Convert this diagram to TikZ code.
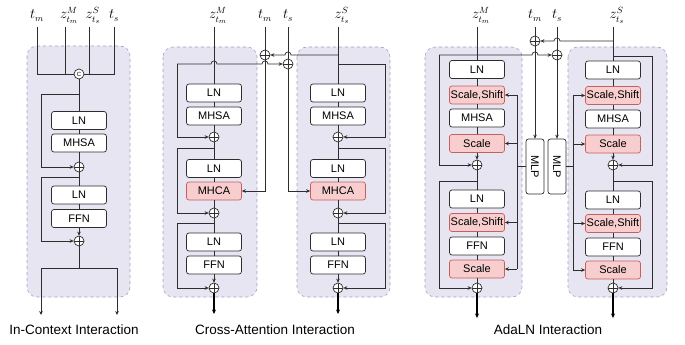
\documentclass[tikz,border=0pt]{standalone}
\usepackage{fontspec}
\setsansfont{Liberation Sans}
\usetikzlibrary{arrows.meta}
\definecolor{panelfill}{RGB}{231,229,242}
\definecolor{paneldraw}{RGB}{165,160,195}
\definecolor{pinkfill}{RGB}{247,205,205}
\definecolor{pinkdraw}{RGB}{200,95,95}
\definecolor{ink}{RGB}{45,45,45}
\begin{document}
\begin{tikzpicture}[x=1pt,y=-1pt,
 panel/.style={draw=paneldraw,dashed,fill=panelfill,rounded corners=10pt,line width=0.6pt},
 blk/.style={draw=ink,fill=white,rounded corners=2.5pt,minimum width=55pt,minimum height=18pt,inner sep=0pt,font=\sffamily\fontsize{11}{12}\selectfont,line width=0.7pt},
 pblk/.style={blk,fill=pinkfill,draw=pinkdraw},
 mlpbox/.style={blk,minimum width=18pt,minimum height=55pt},
 addc/.style={circle,draw=ink,fill=white,minimum size=10pt,inner sep=0pt,line width=0.7pt,
   path picture={\draw[ink,line width=0.6pt] (path picture bounding box.north) -- (path picture bounding box.south) (path picture bounding box.west) -- (path picture bounding box.east);}},
 catc/.style={circle,draw=ink,fill=white,minimum size=10pt,inner sep=0pt,line width=0.7pt,font=\sffamily\fontsize{6}{6}\selectfont},
 lab/.style={anchor=base,font=\fontsize{13.5}{15}\selectfont,inner sep=0pt},
 captxt/.style={font=\sffamily\fontsize{13.5}{15}\selectfont},
 ln/.style={draw=ink,line width=0.7pt},
 arr/.style={ln,-{Stealth[length=4pt,width=3.6pt]}},
 outarr/.style={draw=black,line width=1.3pt,-{Stealth[length=4.5pt,width=4pt]}}
]
\useasboundingbox (0,0) rectangle (685,345);

% ================= Panel 1: In-Context =================
\path[panel] (27,46) rectangle (130,297);
\node[lab] (tm1) at (37,19) {$t_m$};
\node[lab] (zm1) at (69,19) {$z^M_{t_m}$};
\node[lab] (zs1) at (93,19) {$z^S_{t_s}$};
\node[lab] (ts1) at (114,19) {$t_s$};
\coordinate (tm1s) at (37,27);
\coordinate (zm1s) at (65,27);
\coordinate (zs1s) at (89,27);
\coordinate (ts1s) at (114,27);
\node[catc] (cat) at (79,74) {C};
\node[blk] (ln1a) at (79,120.5) {LN};
\node[blk] (mhsa1) at (79,143) {MHSA};
\node[addc] (add1) at (79,167) {};
\node[blk] (ln1b) at (79,195) {LN};
\node[blk] (ffn1) at (79,218.5) {FFN};
\node[addc] (add2) at (79,241) {};
\coordinate (r1a) at (79,94);
\coordinate (r1b) at (41,94);
\coordinate (r2a) at (79,177);
\coordinate (r2b) at (41,177);
\coordinate (o1) at (79,268);
\coordinate (o1l) at (41,268);
\coordinate (o1r) at (117,268);
\coordinate (e1l) at (41,315);
\coordinate (e1r) at (117,315);
\draw[ln] (tm1s) |- (cat.west);
\draw[ln] (ts1s) |- (cat.east);
\draw[ln] (zm1s) -- (zm1s |- cat);
\draw[ln] (zs1s) -- (zs1s |- cat);
\draw[ln] (cat) -- (ln1a);
\draw[arr] (r1a) -- (r1b) |- (add1.west);
\draw[ln] (ln1a) -- (mhsa1);
\draw[ln] (mhsa1) -- (add1);
\draw[ln] (add1) -- (ln1b);
\draw[arr] (r2a) -- (r2b) |- (add2.west);
\draw[ln] (ln1b) -- (ffn1);
\draw[arr] (ffn1) -- (add2);
\draw[ln] (add2) -- (o1);
\draw[ln] (o1l) -- (o1r);
\draw[arr] (o1l) -- (e1l);
\draw[arr] (o1r) -- (e1r);
\node[captxt] (cap1) at (74,330) {In-Context Interaction};

% ================= Panel 2: Cross-Attention =================
\path[panel] (163,47) rectangle (257,297);
\path[panel] (297,47) rectangle (390,297);
\node[lab] (zm2) at (218,19) {$z^M_{t_m}$};
\node[lab] (tm2) at (265,19) {$t_m$};
\node[lab] (ts2) at (288,19) {$t_s$};
\node[lab] (zs2) at (342,19) {$z^S_{t_s}$};
\coordinate (zm2s) at (214,27);
\coordinate (tm2s) at (265,27);
\coordinate (ts2s) at (288,27);
\coordinate (zs2s) at (338,27);
\node[addc] (addU) at (265,55) {};
\node[addc] (addL) at (288,64) {};
% left column
\node[blk] (lnA1) at (214,93) {LN};
\node[blk] (mhsaA) at (214,116) {MHSA};
\node[addc] (addA1) at (214,137) {};
\node[blk] (lnA2) at (214,168.5) {LN};
\node[pblk] (mhcaA) at (214,191) {MHCA};
\node[addc] (addA2) at (214,213) {};
\node[blk] (lnA3) at (214,242) {LN};
\node[blk] (ffnA) at (214,265) {FFN};
\node[addc] (addA3) at (214,288) {};
% right column
\node[blk] (lnB1) at (338,93) {LN};
\node[blk] (mhsaB) at (338,116) {MHSA};
\node[addc] (addB1) at (338,137) {};
\node[blk] (lnB2) at (338,168.5) {LN};
\node[pblk] (mhcaB) at (338,191) {MHCA};
\node[addc] (addB2) at (338,213) {};
\node[blk] (lnB3) at (338,242) {LN};
\node[blk] (ffnB) at (338,265) {FFN};
\node[addc] (addB3) at (338,288) {};
\coordinate (rA1) at (177,64);
\coordinate (rA2) at (214,148);
\coordinate (rA2l) at (177,148);
\coordinate (rA3) at (214,223);
\coordinate (rA3l) at (177,223);
\coordinate (eA) at (214,314);
\coordinate (zs2j) at (338,55);
\coordinate (rB1) at (338,64);
\coordinate (rB1r) at (385,64);
\coordinate (rB2) at (338,148);
\coordinate (rB2r) at (385,148);
\coordinate (rB3) at (338,223);
\coordinate (rB3r) at (385,223);
\coordinate (eB) at (338,314);
\draw[ln] (zm2s) -- (lnA1);
\draw[ln] (tm2s) -- (addU);
\draw[ln] (ts2s) -- (addL);
\draw[ln] (zs2s) -- (lnB1);
\draw[arr] (zs2j) -- (291,55) .. controls (291,51) and (285,51) .. (285,55) -- (addU.east);
\draw[arr] (rA1) -- (211,64) .. controls (211,60) and (217,60) .. (217,64) -- (262,64) .. controls (262,60) and (268,60) .. (268,64) -- (addL.west);
\draw[arr] (rA1) |- (addA1.west);
\draw[ln] (lnA1) -- (mhsaA);
\draw[ln] (mhsaA) -- (addA1);
\draw[ln] (addA1) -- (lnA2);
\draw[arr] (rA2) -- (rA2l) |- (addA2.west);
\draw[ln] (lnA2) -- (mhcaA);
\draw[ln] (mhcaA) -- (addA2);
\draw[ln] (addA2) -- (lnA3);
\draw[arr] (rA3) -- (rA3l) |- (addA3.west);
\draw[ln] (lnA3) -- (ffnA);
\draw[arr] (ffnA) -- (addA3);
\draw[outarr] (addA3) -- (eA);
\draw[arr] (addU) |- (mhcaA.east);
\draw[arr] (addL) |- (mhcaB.west);
\draw[arr] (rB1) -- (rB1r) |- (addB1.east);
\draw[ln] (lnB1) -- (mhsaB);
\draw[ln] (mhsaB) -- (addB1);
\draw[ln] (addB1) -- (lnB2);
\draw[arr] (rB2) -- (rB2r) |- (addB2.east);
\draw[ln] (lnB2) -- (mhcaB);
\draw[ln] (mhcaB) -- (addB2);
\draw[ln] (addB2) -- (lnB3);
\draw[arr] (rB3) -- (rB3r) |- (addB3.east);
\draw[ln] (lnB3) -- (ffnB);
\draw[arr] (ffnB) -- (addB3);
\draw[outarr] (addB3) -- (eB);
\node[captxt] (cap2) at (275,330) {Cross-Attention Interaction};

% ================= Panel 3: AdaLN =================
\path[panel] (425,47) rectangle (522,297);
\path[panel] (568,47) rectangle (667,297);
\node[lab] (zm3) at (481,19) {$z^M_{t_m}$};
\node[lab] (tm3) at (535,19) {$t_m$};
\node[lab] (ts3) at (557,19) {$t_s$};
\node[lab] (zs3) at (617,19) {$z^S_{t_s}$};
\coordinate (zm3s) at (477,27);
\coordinate (tm3s) at (535,27);
\coordinate (ts3s) at (557,27);
\coordinate (zs3s) at (613,27);
\node[addc] (addT) at (535,41) {};
\node[addc] (addT2) at (557,55) {};
\node[mlpbox] (mlp1) at (535,166.5) {\rotatebox{-90}{MLP}};
\node[mlpbox] (mlp2) at (557,166.5) {\rotatebox{-90}{MLP}};
% left column
\node[blk] (lnC1) at (477,69.5) {LN};
\node[pblk] (ssC1) at (477,95) {Scale,Shift};
\node[blk] (mhsaC) at (477,118) {MHSA};
\node[pblk] (scC1) at (477,143.5) {Scale};
\node[addc] (addC1) at (477,165) {};
\node[blk] (lnC2) at (477,199) {LN};
\node[pblk] (ssC2) at (477,222.5) {Scale,Shift};
\node[blk] (ffnC) at (477,246) {FFN};
\node[pblk] (scC2) at (477,269) {Scale};
\node[addc] (addC2) at (477,288) {};
% right column
\node[blk] (lnD1) at (613,70) {LN};
\node[pblk] (ssD1) at (613,95.5) {Scale,Shift};
\node[blk] (mhsaD) at (613,119) {MHSA};
\node[pblk] (scD1) at (613,144) {Scale};
\node[addc] (addD1) at (613,165) {};
\node[blk] (lnD2) at (613,200) {LN};
\node[pblk] (ssD2) at (613,223.5) {Scale,Shift};
\node[blk] (ffnD) at (613,247) {FFN};
\node[pblk] (scD2) at (613,270) {Scale};
\node[addc] (addD2) at (613,288) {};
\coordinate (zs3j) at (613,41);
\coordinate (rC1) at (439,55);
\coordinate (rC2) at (477,181);
\coordinate (rC2l) at (439,181);
\coordinate (eC) at (477,318);
\coordinate (rD1) at (613,56);
\coordinate (rD1r) at (652,56);
\coordinate (rD2) at (613,181);
\coordinate (rD2r) at (652,181);
\coordinate (eD) at (613,318);
\coordinate (m1j) at (517,166.5);
\coordinate (m1t) at (517,95);
\coordinate (m1b) at (517,269);
\coordinate (m2j) at (573,166.5);
\coordinate (m2t) at (573,95.5);
\coordinate (m2b) at (573,270);
\draw[ln] (zm3s) -- (lnC1);
\draw[ln] (tm3s) -- (addT);
\draw[ln] (ts3s) -- (addT2);
\draw[ln] (zs3s) -- (lnD1);
\draw[arr] (zs3j) -- (560,41) .. controls (560,37) and (554,37) .. (554,41) -- (addT.east);
\draw[arr] (rC1) -- (532,55) .. controls (532,51) and (538,51) .. (538,55) -- (addT2.west);
\draw[arr] (rC1) |- (addC1.west);
\draw[arr] (addT) -- (mlp1);
\draw[arr] (addT2) -- (mlp2);
\draw[ln] (lnC1) -- (ssC1);
\draw[ln] (ssC1) -- (mhsaC);
\draw[ln] (mhsaC) -- (scC1);
\draw[arr] (scC1) -- (addC1);
\draw[ln] (addC1) -- (lnC2);
\draw[arr] (rC2) -- (rC2l) |- (addC2.west);
\draw[ln] (lnC2) -- (ssC2);
\draw[ln] (ssC2) -- (ffnC);
\draw[ln] (ffnC) -- (scC2);
\draw[ln] (scC2) -- (addC2);
\draw[outarr] (addC2) -- (eC);
\draw[arr] (rD1) -- (rD1r) |- (addD1.east);
\draw[ln] (lnD1) -- (ssD1);
\draw[ln] (ssD1) -- (mhsaD);
\draw[ln] (mhsaD) -- (scD1);
\draw[arr] (scD1) -- (addD1);
\draw[ln] (addD1) -- (lnD2);
\draw[arr] (rD2) -- (rD2r) |- (addD2.east);
\draw[ln] (lnD2) -- (ssD2);
\draw[ln] (ssD2) -- (ffnD);
\draw[ln] (ffnD) -- (scD2);
\draw[ln] (scD2) -- (addD2);
\draw[outarr] (addD2) -- (eD);
% MLP fan-out
\draw[ln] (mlp1.west) -- (m1j);
\draw[ln] (m1t) -- (m1b);
\draw[arr] (m1t) -- (ssC1.east);
\draw[arr] (scC1 -| m1t) -- (scC1.east);
\draw[arr] (ssC2 -| m1t) -- (ssC2.east);
\draw[arr] (m1b) -- (scC2.east);
\draw[ln] (mlp2.east) -- (m2j);
\draw[ln] (m2t) -- (m2b);
\draw[arr] (m2t) -- (ssD1.west);
\draw[arr] (scD1 -| m2t) -- (scD1.west);
\draw[arr] (ssD2 -| m2t) -- (ssD2.west);
\draw[arr] (m2b) -- (scD2.west);
\node[captxt] (cap3) at (548,330) {AdaLN Interaction};
\end{tikzpicture}
\end{document}
